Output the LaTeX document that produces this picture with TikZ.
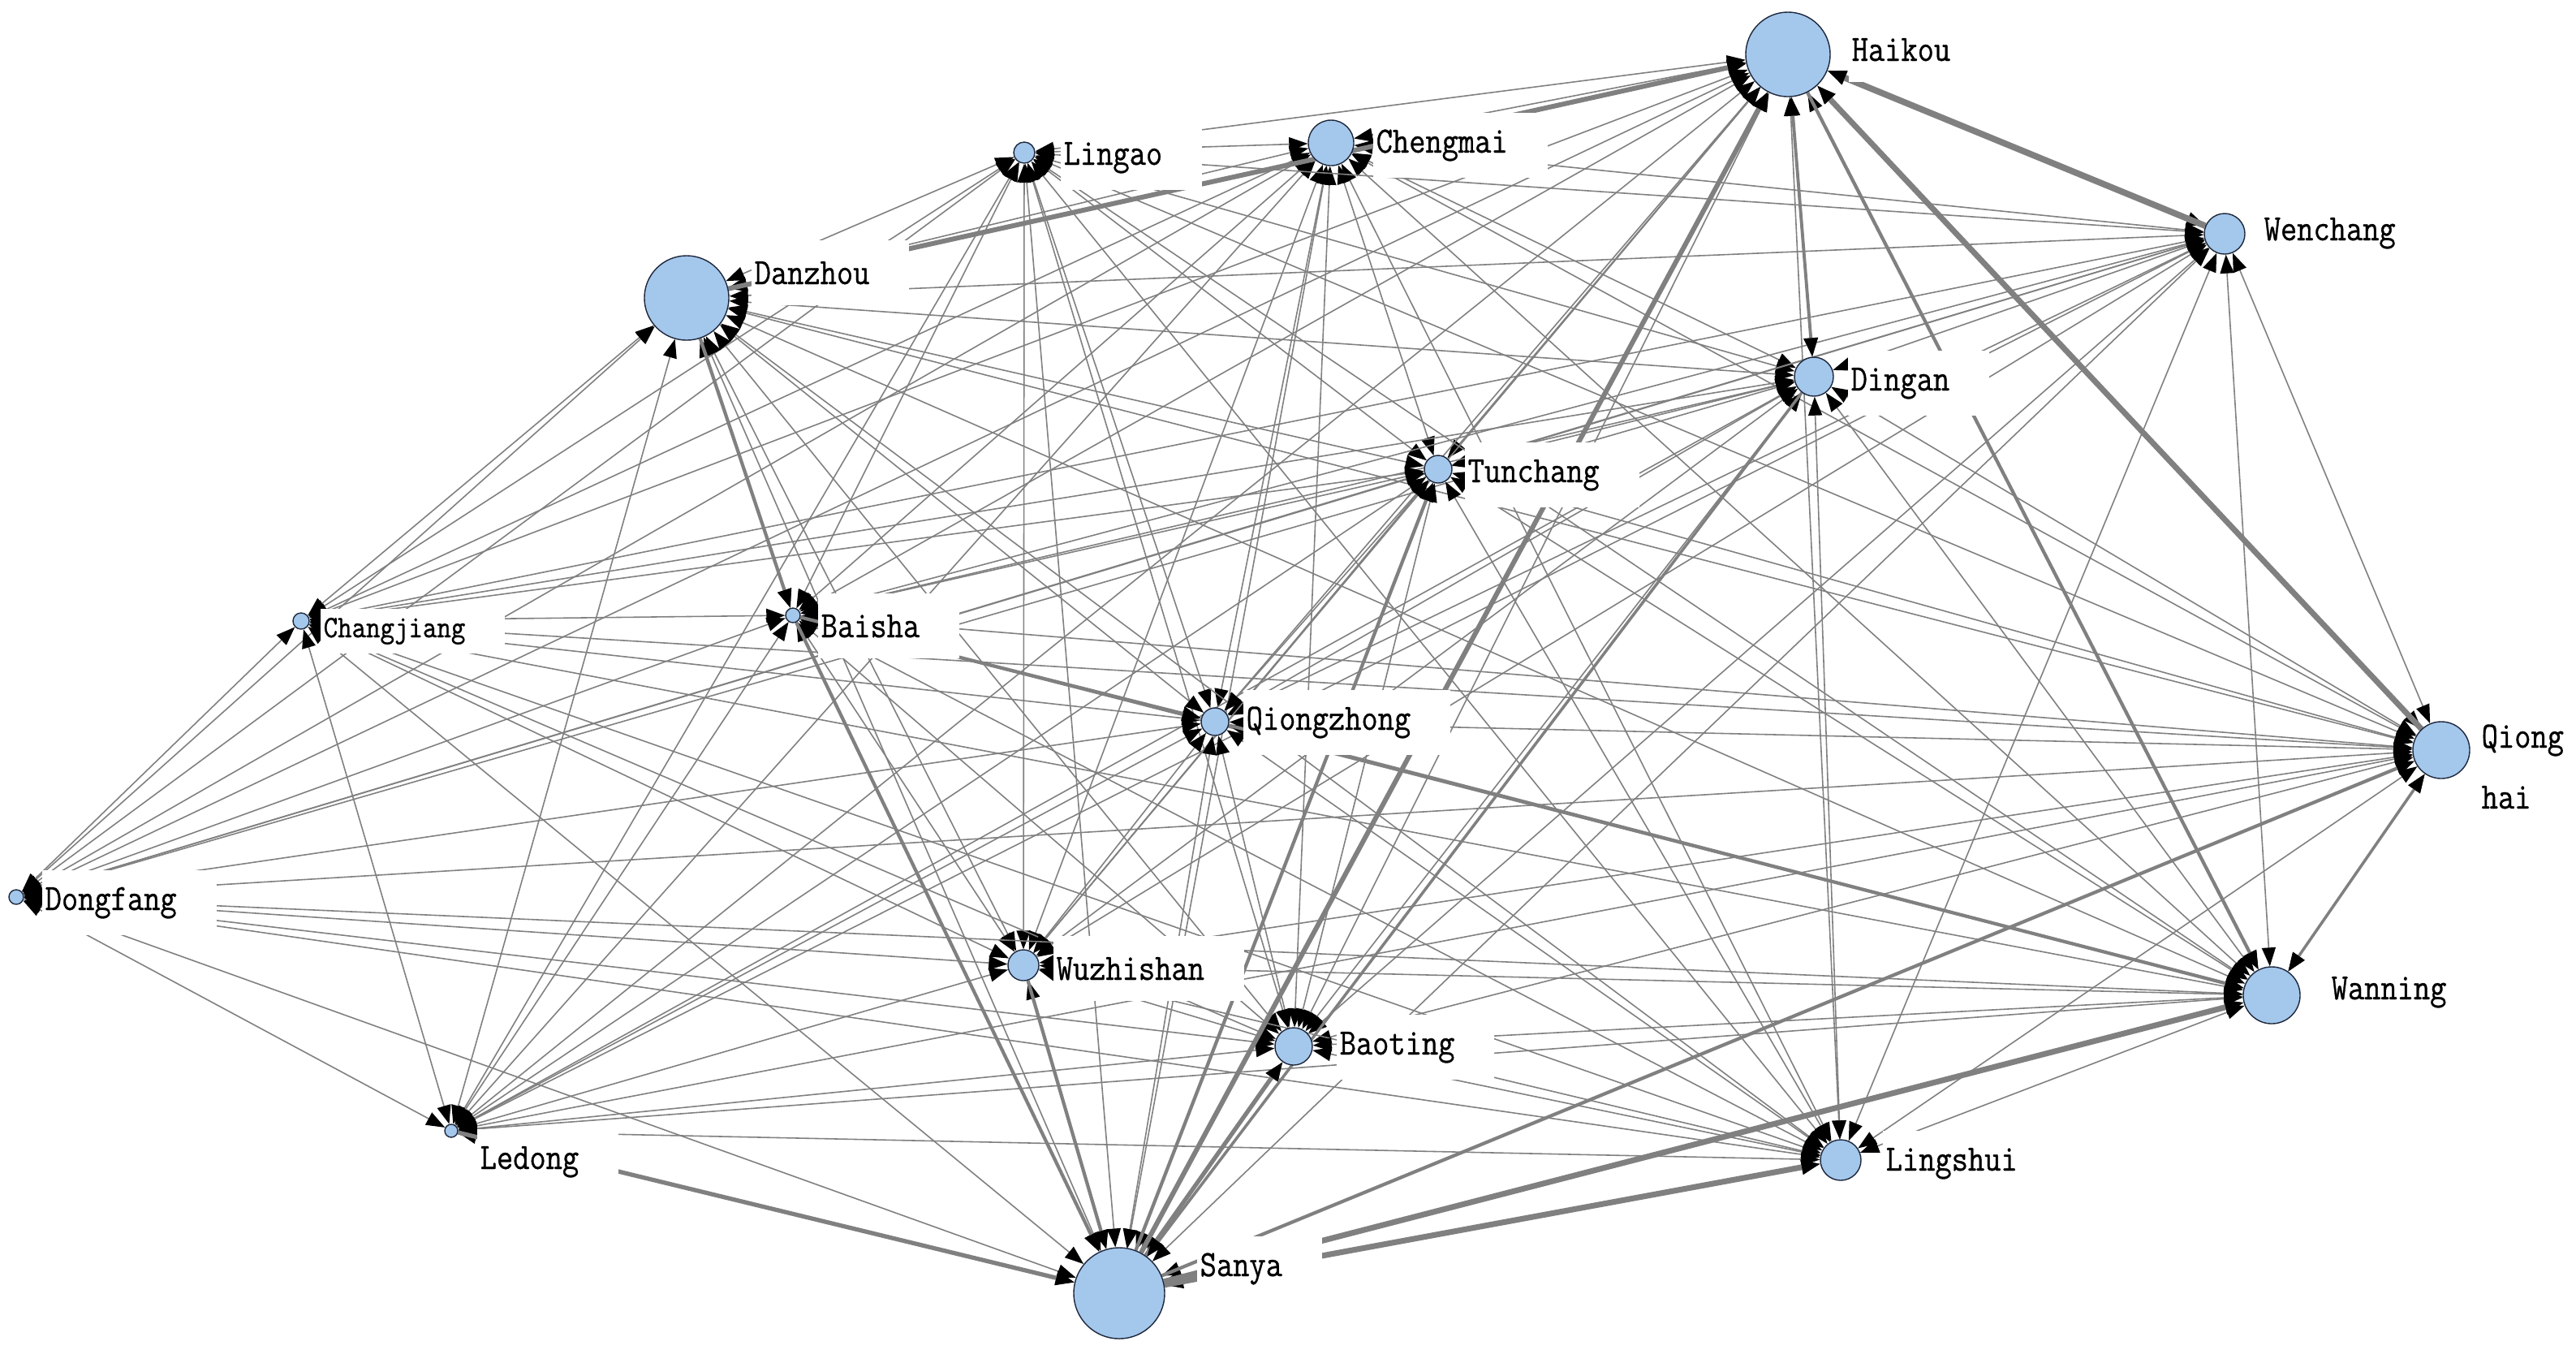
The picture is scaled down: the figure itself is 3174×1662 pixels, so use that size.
\documentclass[tikz,border=0pt]{standalone}
\usepackage{fontspec}
\newfontfamily\labfont[FakeStretch=0.86,FakeBold=0.7]{Latin Modern Mono}
\usetikzlibrary{arrows.meta,backgrounds}
\definecolor{nodeblue}{RGB}{164,199,236}
\definecolor{edgegray}{RGB}{128,128,128}
\definecolor{rimcol}{RGB}{30,40,60}
\begin{document}
\begin{tikzpicture}[x=0.01cm,y=-0.01cm,
  >={Triangle[length=2.3mm,width=1.7mm,color=black]}]
\tikzset{
  city/.style={circle, fill=nodeblue, draw=rimcol, line width=0.4pt, inner sep=0pt},
  lab/.style={fill=white, inner xsep=0.4mm, inner ysep=0.8mm, anchor=base west,
    minimum height=0.8cm, execute at end node={\hspace{0.45cm}},
    font=\labfont\fontsize{13pt}{16pt}\selectfont, text=black},
  smalllab/.style={lab, minimum height=0.55cm, execute at end node={},
    font=\labfont\fontsize{11pt}{13pt}\selectfont},
  thinedge/.style={draw=edgegray, line width=0.45pt, <->},
  wedge/.style={draw=edgegray, line width=#1, ->},
}
\useasboundingbox (0,0) rectangle (3174,1662);
% cities
\node[city, minimum size=1.04cm] (HK) at (2203,67) {};
\node[city, minimum size=0.56cm] (CM) at (1640,176) {};
\node[city, minimum size=0.26cm] (LG) at (1262,188) {};
\node[city, minimum size=1.04cm] (DZ) at (846,367) {};
\node[city, minimum size=0.50cm] (WC) at (2741,288) {};
\node[city, minimum size=0.48cm] (DA) at (2235,464) {};
\node[city, minimum size=0.34cm] (TC) at (1772,578) {};
\node[city, minimum size=0.20cm] (CJ) at (371,765) {};
\node[city, minimum size=0.18cm] (BS) at (977,758) {};
\node[city, minimum size=0.34cm] (QZ) at (1497,889) {};
\node[city, minimum size=0.70cm] (QH) at (3008,924) {};
\node[city, minimum size=0.18cm] (DF) at (20,1105) {};
\node[city, minimum size=0.38cm] (WZ) at (1261,1189) {};
\node[city, minimum size=0.46cm] (BT) at (1594,1289) {};
\node[city, minimum size=0.70cm] (WN) at (2799,1226) {};
\node[city, minimum size=0.16cm] (LD) at (556,1393) {};
\node[city, minimum size=0.50cm] (LS) at (2268,1429) {};
\node[city, minimum size=1.12cm] (SY) at (1379,1593) {};
% edges
\begin{pgfonlayer}{background}
\fill[white] (0,0) rectangle (3174,1662);
\foreach \a [count=\i] in {HK,CM,LG,DZ,WC,DA,TC,CJ,BS,QZ,QH,DF,WZ,BT,WN,LD,LS,SY} {
  \foreach \b [count=\j] in {HK,CM,LG,DZ,WC,DA,TC,CJ,BS,QZ,QH,DF,WZ,BT,WN,LD,LS,SY} {
    \ifnum\j>\i \draw[thinedge] (\a) -- (\b); \fi
  }
}
\draw[wedge=1.7pt] (DZ) -- (HK);
\draw[wedge=2.2pt] (WC) -- (HK);
\draw[wedge=2pt] (QH) -- (HK);
\draw[wedge=1.7pt] (SY) -- (HK);
\draw[wedge=1.1pt, <->] (HK) -- (DA);
\draw[wedge=1.2pt] (HK) -- (WN);
\draw[wedge=2pt] (SY) -- (WN);
\draw[wedge=2pt] (SY) -- (LS);
\draw[wedge=1.2pt] (SY) -- (QH);
\draw[wedge=1.5pt] (LD) -- (SY);
\draw[wedge=1.2pt] (BS) -- (SY);
\draw[wedge=1.2pt] (DZ) -- (BS);
\draw[wedge=1.2pt] (BS) -- (QZ);
\draw[wedge=1.2pt] (QZ) -- (WN);
\draw[wedge=1pt, <->] (WN) -- (QH);
\draw[wedge=1.5pt] (SY) -- (BT);
\draw[wedge=1.2pt] (WZ) -- (SY);
\draw[wedge=1.2pt] (SY) -- (TC);
\draw[wedge=1pt] (DA) -- (SY);
\end{pgfonlayer}
% labels
\node[lab] (HKl) at (2277,75) {Haikou};
\node[lab] (CMl) at (1691,188) {Chengmai};
\node[lab] (LGl) at (1306,203) {Lingao};
\node[lab] (DZl) at (925,350) {Danzhou};
\node[lab] (WCl) at (2785,296) {Wenchang};
\node[lab] (DAl) at (2276,481) {Dingan};
\node[lab] (TCl) at (1804,594) {Tunchang};
\node[smalllab] (CJl) at (394,785) {Changjiang};
\node[lab] (BSl) at (1007,785) {Baisha};
\node[lab] (QZl) at (1531,899) {Qiongzhong};
\node[lab] (QHl) at (3053,921) {Qiong};
\node[lab] (QHm) at (3053,996) {hai};
\node[lab] (DFl) at (51,1121) {Dongfang};
\node[lab] (WZl) at (1297,1207) {Wuzhishan};
\node[lab] (BTl) at (1646,1299) {Baoting};
\node[lab] (WNl) at (2868,1231) {Wanning};
\node[lab] (LDl) at (587,1440) {Ledong};
\node[lab] (LSl) at (2319,1442) {Lingshui};
\node[lab] (SYl) at (1474,1572) {Sanya};
\end{tikzpicture}
\end{document}
